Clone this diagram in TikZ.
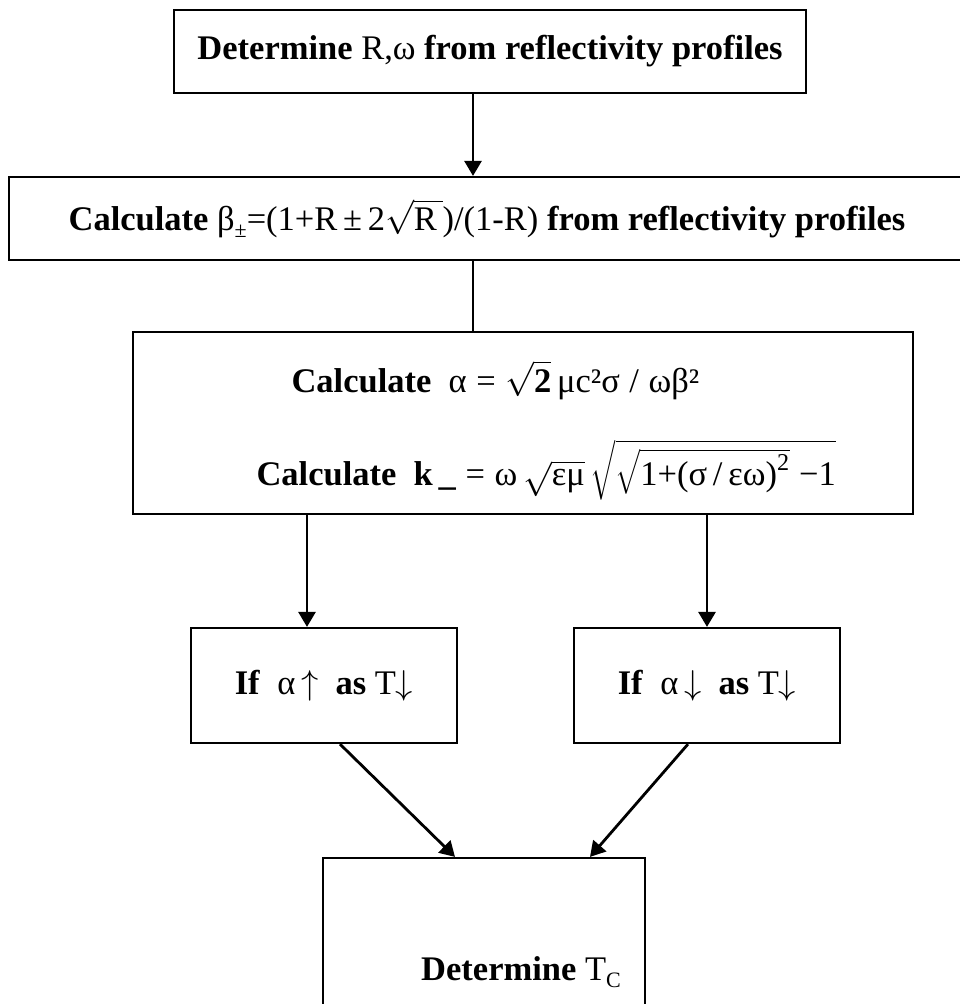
\RequirePackage{fix-cm}
\documentclass[tikz,border=0pt]{standalone}
\usepackage{amsmath}
\usepackage{fontspec}
\setmainfont{Liberation Serif}
\usetikzlibrary{arrows.meta, positioning, calc}

\newcommand{\flowfont}{\fontsize{34.5}{40}\selectfont}
\newcommand{\lowsub}[1]{\raisebox{-0.45ex}{\fontsize{22}{22}\selectfont #1}}

\tikzset{
  stepbox/.style={draw, line width=2.2pt, inner sep=0pt},
  flow/.style={->, line width=2.8pt},
  link/.style={line width=2.8pt},
}

\begin{document}
\begin{tikzpicture}[x=1pt, y=-1pt, >={Triangle[length=15pt, width=17pt]}, font=\flowfont]

% Page
\useasboundingbox (0,0) rectangle (959,1004);
\fill[white] (0,0) rectangle (959,1004);

%%% Boxes %%%
\node[stepbox, minimum width=632pt, minimum height=83pt] (det) at (490,51.5)
  {\textbf{Determine} R,ω \textbf{from reflectivity profiles}};

\node[stepbox, minimum width=956pt, minimum height=83pt] (beta) at (487,218.5)
  {\textbf{Calculate} β\lowsub{±}=(1+R\,±\,2$\sqrt{\text{R\,}}$)/(1-R) \textbf{from reflectivity profiles}};

\node[stepbox, minimum width=780pt, minimum height=182pt] (calc) at (523,423) {};
\node[anchor=base west] (alpha) at (288,392)
  {\textbf{Calculate}\enspace α\;=\;$\sqrt{\text{\textbf{2}}}$\,μc²σ\;/\;ωβ²};
\node[anchor=base west] (kminus) at (253,485)
  {\textbf{Calculate}\enspace\textbf{k\,\_}\;=\;ω$\,\sqrt{\text{εμ}}\,\sqrt{\sqrt{\text{1+(σ\,/\,εω)}^{\text{2}}}\text{\;−1}}$};

\node[stepbox, minimum width=266pt, minimum height=115pt] (up) at (324,685.5)
  {\textbf{If}\enspace α\,$\uparrow$\enspace\textbf{as} T$\downarrow$};
\node[stepbox, minimum width=266pt, minimum height=115pt] (down) at (707,685.5)
  {\textbf{If}\enspace α\,$\downarrow$\enspace\textbf{as} T$\downarrow$};

\node[stepbox, minimum width=322pt, minimum height=240pt] (tc) at (484,978) {};
\node (tclabel) at (521,972) {\textbf{Determine} T\lowsub{C}};

%%% Connectors %%%
\draw[flow] ([xshift=-17pt]det.south) -- ([xshift=-17pt]det.south |- beta.north);
\draw[link] ([xshift=-14pt]beta.south) -- ([xshift=-14pt]beta.south |- calc.north);
\draw[flow] ([xshift=-17pt]up.north |- calc.south) -- ([xshift=-17pt]up.north);
\draw[flow] (down.north |- calc.south) -- (down.north);
\draw[flow] ([xshift=16pt]up.south) -- ([xshift=-29pt]tc.north);
\draw[flow] ([xshift=-19pt]down.south) -- ([xshift=106pt]tc.north);

\end{tikzpicture}
\end{document}
